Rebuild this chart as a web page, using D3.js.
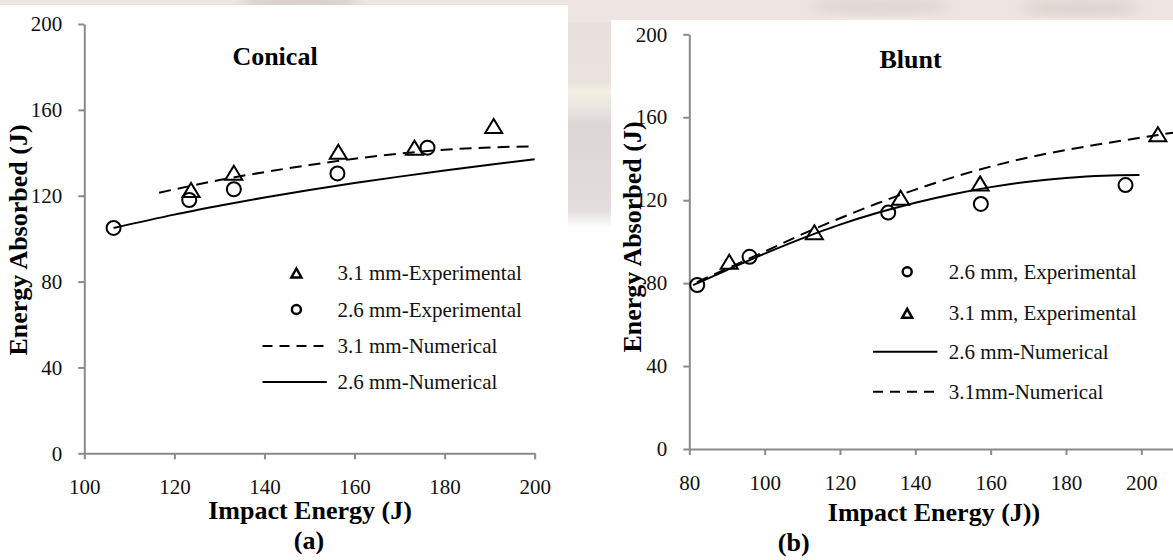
<!DOCTYPE html>
<html>
<head>
<meta charset="utf-8">
<script src="https://cdn.jsdelivr.net/npm/d3@7"></script>
<style>
  body { margin: 0; background: #fff; }
  svg { display: block; font-family: "Liberation Serif", "Times New Roman", serif; }
</style>
</head>
<body>
<div id="chart"></div>
<script>
// ---- data: (a) conical ----
var circ26A_x = [106.5, 123.3, 133.2, 156.2, 176.2];
var circ26A_y = [105, 118, 123, 130.4, 142.4];
var tri31A_x = [123.7, 133.2, 156.4, 173.3, 190.9];
var tri31A_y = [122.7, 130.7, 140.5, 142.4, 152.5];
var num31A_x = [116.6, 130, 140, 150, 160, 170, 180, 190, 200];
var num31A_y = [121.4, 127.3, 131.0, 134.3, 137.2, 139.6, 141.4, 142.5, 143.0];
var num26A_x = [106.5, 120, 130, 140, 150, 160, 170, 180, 190, 200];
var num26A_y = [105, 111.2, 115.3, 119.2, 122.7, 125.9, 128.9, 131.7, 134.4, 137];

// ---- data: (b) blunt ----
var circ26B_x = [82.1, 96, 132.8, 157.4, 195.8];
var circ26B_y = [79.1, 92.7, 114, 118.2, 127.3];
var tri31B_x = [90.6, 113.2, 136.1, 157.2, 204.4];
var tri31B_y = [90.3, 104.5, 121.2, 128.1, 151.8];
var num26B_x = [81, 90, 100, 110, 120, 130, 140, 150, 160, 170, 180, 190, 199.5];
var num26B_y = [79, 86.3, 94.2, 101.6, 108.2, 113.9, 118.8, 122.9, 126.3, 128.9, 130.7, 131.8, 132.1];
var num31B_x = [82, 90, 100, 110, 120, 130, 140, 150, 160, 170, 180, 190, 200, 210];
var num31B_y = [80.5, 87, 95.2, 103.6, 111.3, 118.5, 125.1, 131, 136.2, 140.6, 144.2, 147.3, 150.2, 153];

// ticks and labels
var xTicksA = [100, 120, 140, 160, 180, 200];
var xTicksB = [80, 100, 120, 140, 160, 180, 200];
var yTicks = [0, 40, 80, 120, 160, 200];
var legendA = ["3.1 mm-Experimental", "2.6 mm-Experimental", "3.1 mm-Numerical", "2.6 mm-Numerical"];
var legendB = ["2.6 mm, Experimental", "3.1 mm, Experimental", "2.6 mm-Numerical", "3.1mm-Numerical"];

var W = 1173, H = 560;
var axisCol = "#8a8a8a";

var svg = d3.select("#chart").append("svg")
  .attr("width", W).attr("height", H);

// faint watermark behind the two panels
var defs = svg.append("defs");
defs.append("filter").attr("id", "blur").append("feGaussianBlur").attr("stdDeviation", 6);
var gapGrad = defs.append("linearGradient").attr("id", "gapGrad")
  .attr("x1", 0).attr("y1", 0).attr("x2", 0).attr("y2", 1);
gapGrad.append("stop").attr("offset", "0%").attr("stop-color", "#e7dfdc");
gapGrad.append("stop").attr("offset", "36%").attr("stop-color", "#e9e2de");
gapGrad.append("stop").attr("offset", "40%").attr("stop-color", "#f4f0e3");
gapGrad.append("stop").attr("offset", "46%").attr("stop-color", "#ebe7e2");
gapGrad.append("stop").attr("offset", "55%").attr("stop-color", "#dcd7d6");
gapGrad.append("stop").attr("offset", "92%").attr("stop-color", "#e2dddc");
gapGrad.append("stop").attr("offset", "100%").attr("stop-color", "#ffffff");

var wm = svg.append("g");
wm.append("rect").attr("x", 0).attr("y", 0).attr("width", W).attr("height", 228)
  .attr("fill", "url(#gapGrad)");
wm.append("rect").attr("x", 0).attr("y", 0).attr("width", W).attr("height", 22)
  .attr("fill", "#ede5e1");
wm.append("ellipse").attr("cx", 300).attr("cy", 2).attr("rx", 60).attr("ry", 8)
  .attr("fill", "#d8ccc6").attr("filter", "url(#blur)");
wm.append("ellipse").attr("cx", 880).attr("cy", 6).attr("rx", 70).attr("ry", 9)
  .attr("fill", "#e0d6d2").attr("filter", "url(#blur)");
wm.append("ellipse").attr("cx", 1080).attr("cy", 8).attr("rx", 60).attr("ry", 8)
  .attr("fill", "#ddd3cf").attr("filter", "url(#blur)");

// white panels
svg.append("rect").attr("x", 0).attr("y", 5).attr("width", 568).attr("height", H - 5).attr("fill", "#fff");
svg.append("rect").attr("x", 611).attr("y", 20).attr("width", W - 611).attr("height", H - 20).attr("fill", "#fff");

function zip(xs, ys) { return xs.map(function (x, i) { return [x, ys[i]]; }); }

function triPath(cx, cy, w, h) {
  return "M" + cx + "," + (cy - h / 2) + "L" + (cx + w / 2) + "," + (cy + h / 2) + "L" + (cx - w / 2) + "," + (cy + h / 2) + "Z";
}

function drawPanel(cfg) {
  var g = svg.append("g");
  var x = d3.scaleLinear().domain(cfg.xDomain).range(cfg.xRange);
  var y = d3.scaleLinear().domain([0, 200]).range(cfg.yRange);

  // axes
  var xa = g.append("g").attr("transform", "translate(0," + cfg.yRange[0] + ")")
    .call(d3.axisBottom(x).tickValues(cfg.xTicks).tickSize(6).tickSizeOuter(0).tickFormat(d3.format("d")));
  xa.selectAll("text").attr("y", cfg.xLabelY).attr("dy", 0);
  var ya = g.append("g").attr("transform", "translate(" + cfg.xRange[0] + ",0)")
    .call(d3.axisLeft(y).tickValues(yTicks).tickSize(6).tickSizeOuter(0).tickPadding(16));
  [xa, ya].forEach(function (a) {
    a.select(".domain").attr("stroke", axisCol).attr("stroke-width", 2);
    a.selectAll(".tick line").attr("stroke", axisCol).attr("stroke-width", 2);
    a.selectAll("text").attr("fill", "#111").style("font-size", "21px")
      .style("font-family", "'Liberation Serif', 'Times New Roman', serif");
  });

  // numerical curves
  var line = d3.line().x(function (d) { return x(d[0]); }).y(function (d) { return y(d[1]); })
    .curve(d3.curveMonotoneX);
  g.append("path").datum(cfg.solid).attr("d", line)
    .attr("fill", "none").attr("stroke", "#000").attr("stroke-width", 2);
  g.append("path").datum(cfg.dashed).attr("d", line)
    .attr("fill", "none").attr("stroke", "#000").attr("stroke-width", 2).attr("stroke-dasharray", "12,7");

  // experimental markers
  g.selectAll(".circ").data(cfg.circles).join("circle")
    .attr("cx", function (d) { return x(d[0]); }).attr("cy", function (d) { return y(d[1]); })
    .attr("r", 7).attr("fill", "none").attr("stroke", "#000").attr("stroke-width", 2);
  g.selectAll(".tri").data(cfg.triangles).join("path")
    .attr("d", function (d) { return triPath(x(d[0]), y(d[1]), 17, 14); })
    .attr("fill", "none").attr("stroke", "#000").attr("stroke-width", 2).attr("stroke-linejoin", "miter");

  // titles
  g.append("text").attr("x", cfg.title[1]).attr("y", cfg.title[2])
    .attr("text-anchor", "middle").style("font-size", "26px").style("font-weight", "bold")
    .text(cfg.title[0]);
  g.append("text").attr("x", cfg.xTitle[1]).attr("y", cfg.xTitle[2])
    .attr("text-anchor", "middle").style("font-size", "26px").style("font-weight", "bold")
    .text(cfg.xTitle[0]);
  g.append("text").attr("transform", "translate(" + cfg.yTitle[0] + "," + cfg.yTitle[1] + ") rotate(-90)")
    .attr("text-anchor", "middle").style("font-size", "26px").style("font-weight", "bold")
    .text("Energy Absorbed (J)");
  g.append("text").attr("x", cfg.tag[1]).attr("y", cfg.tag[2])
    .attr("text-anchor", "middle").style("font-size", "26px").style("font-weight", "bold")
    .text(cfg.tag[0]);

  // legend
  var lg = g.append("g");
  cfg.legend.forEach(function (name, i) {
    var ly = cfg.legRows[i];
    var kind = cfg.legKinds[i];
    if (kind === "circle") {
      lg.append("circle").attr("cx", cfg.legMarkX).attr("cy", ly).attr("r", 4.5)
        .attr("fill", "none").attr("stroke", "#000").attr("stroke-width", 2.5);
    } else if (kind === "tri") {
      lg.append("path").attr("d", triPath(cfg.legMarkX, ly, 10, 9))
        .attr("fill", "none").attr("stroke", "#000").attr("stroke-width", 2.5);
    } else {
      lg.append("line").attr("x1", cfg.legLine[0]).attr("x2", cfg.legLine[1])
        .attr("y1", ly).attr("y2", ly).attr("stroke", "#000").attr("stroke-width", 2)
        .attr("stroke-dasharray", kind === "dash" ? "10,7" : null);
    }
    lg.append("text").attr("x", cfg.legTextX).attr("y", ly + 7)
      .style("font-size", "21px").attr("fill", "#111").text(name);
  });
}

drawPanel({
  xDomain: [100, 200], xRange: [84.3, 534.7], yRange: [453.3, 24],
  xTicks: xTicksA, xLabelY: 41,
  solid: zip(num26A_x, num26A_y), dashed: zip(num31A_x, num31A_y),
  circles: zip(circ26A_x, circ26A_y), triangles: zip(tri31A_x, tri31A_y),
  title: ["Conical", 275, 65],
  xTitle: ["Impact Energy (J)", 310, 519],
  yTitle: [26.5, 240],
  tag: ["(a)", 309, 549],
  legend: legendA, legKinds: ["tri", "circle", "dash", "solid"],
  legRows: [273, 309.5, 346, 382], legMarkX: 296.4, legLine: [262.5, 326.8], legTextX: 337.5
});

drawPanel({
  xDomain: [80, 210], xRange: [689.3, 1179], yRange: [449, 34.3],
  xTicks: xTicksB, xLabelY: 41,
  solid: zip(num26B_x, num26B_y), dashed: zip(num31B_x, num31B_y),
  circles: zip(circ26B_x, circ26B_y), triangles: zip(tri31B_x, tri31B_y),
  title: ["Blunt", 910.6, 68],
  xTitle: ["Impact Energy (J))", 934, 521],
  yTitle: [641, 237],
  tag: ["(b)", 793.7, 551],
  legend: legendB, legKinds: ["circle", "tri", "solid", "dash"],
  legRows: [271.7, 313.3, 351.7, 391.7], legMarkX: 907.2, legLine: [873, 937.4], legTextX: 948.8
});
</script>
</body>
</html>
